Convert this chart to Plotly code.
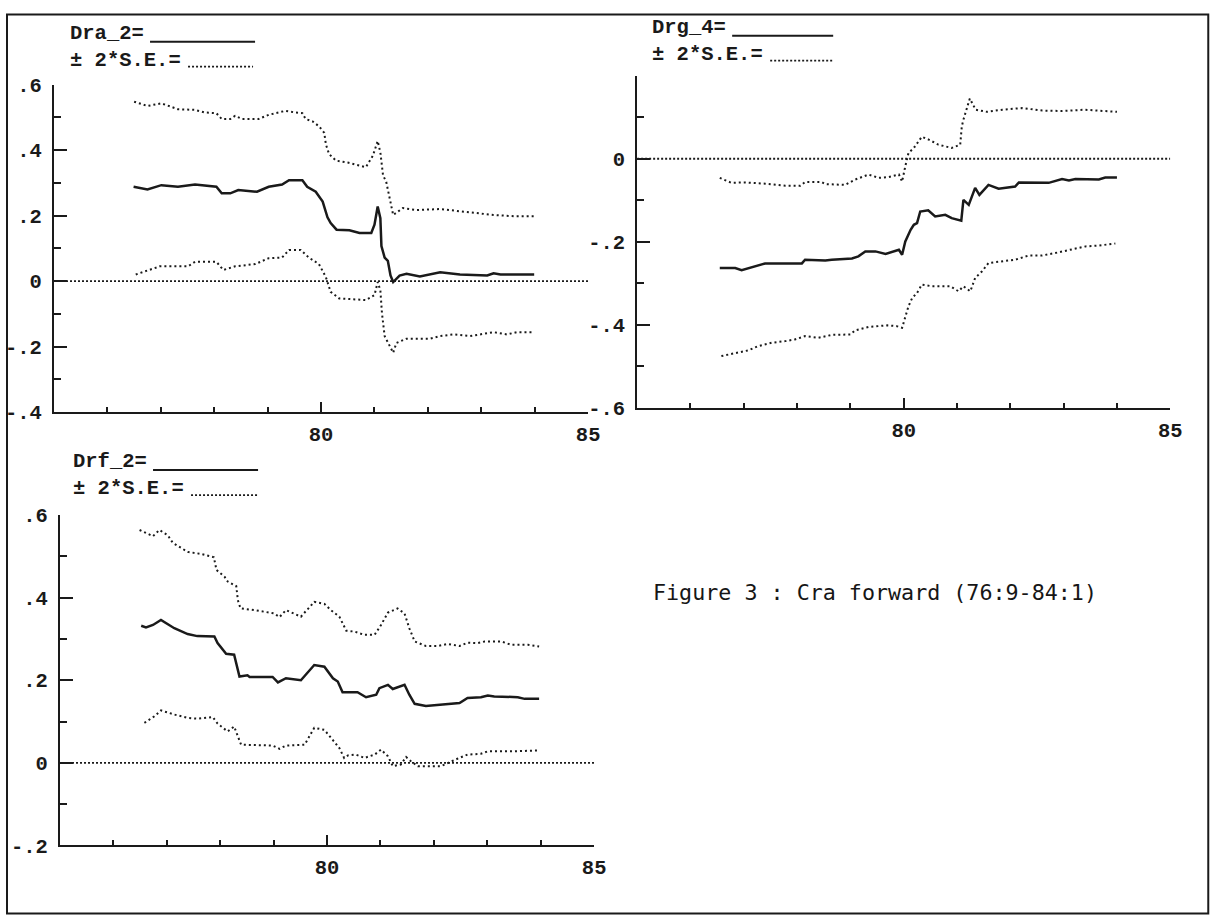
import plotly.graph_objects as go

# ---------------- data (year, value) ----------------
ZERO_X = [75, 85]
ZERO_Y = [0, 0]

P1_UPPER = [(76.50, 0.548), (76.75, 0.535), (77.01, 0.543), (77.32, 0.525), (77.64, 0.523),
            (77.82, 0.515), (78.04, 0.513), (78.14, 0.495), (78.30, 0.495), (78.39, 0.505),
            (78.52, 0.495), (78.83, 0.495), (79.02, 0.508), (79.33, 0.520), (79.52, 0.515),
            (79.65, 0.513), (79.71, 0.495), (79.84, 0.488), (79.96, 0.473), (80.06, 0.453),
            (80.09, 0.418), (80.15, 0.388), (80.28, 0.368), (80.50, 0.362), (80.72, 0.353),
            (80.84, 0.348), (80.97, 0.383), (81.06, 0.428), (81.11, 0.393), (81.16, 0.323),
            (81.22, 0.303), (81.28, 0.253), (81.35, 0.202), (81.53, 0.223), (81.79, 0.217),
            (82.23, 0.220), (82.60, 0.213), (82.92, 0.208), (83.23, 0.202), (83.61, 0.198),
            (83.99, 0.198)]
P1_CENTER = [(76.49, 0.288), (76.75, 0.280), (77.01, 0.293), (77.32, 0.288), (77.64, 0.295),
             (78.04, 0.288), (78.14, 0.268), (78.30, 0.268), (78.45, 0.278), (78.80, 0.273),
             (79.02, 0.288), (79.27, 0.295), (79.40, 0.308), (79.65, 0.308), (79.74, 0.288),
             (79.90, 0.273), (80.03, 0.243), (80.12, 0.195), (80.18, 0.177), (80.29, 0.157),
             (80.53, 0.155), (80.72, 0.147), (80.94, 0.147), (81.00, 0.172), (81.06, 0.228),
             (81.11, 0.192), (81.13, 0.107), (81.19, 0.072), (81.25, 0.062), (81.30, 0.017),
             (81.35, -0.003), (81.47, 0.017), (81.60, 0.022), (81.85, 0.014), (82.23, 0.027),
             (82.60, 0.020), (83.11, 0.017), (83.23, 0.024), (83.36, 0.020), (83.99, 0.020)]
P1_LOWER = [(76.53, 0.020), (76.75, 0.032), (76.98, 0.045), (77.51, 0.045), (77.64, 0.059),
            (78.04, 0.059), (78.17, 0.034), (78.39, 0.045), (78.77, 0.052), (79.02, 0.070),
            (79.27, 0.072), (79.40, 0.095), (79.62, 0.095), (79.77, 0.072), (79.96, 0.052),
            (80.09, 0.012), (80.18, -0.033), (80.34, -0.053), (80.72, -0.058), (80.84, -0.058),
            (81.00, -0.043), (81.06, -0.003), (81.11, -0.028), (81.14, -0.098), (81.19, -0.168),
            (81.28, -0.198), (81.35, -0.219), (81.41, -0.189), (81.60, -0.176), (82.04, -0.176),
            (82.23, -0.168), (82.48, -0.163), (82.79, -0.168), (83.23, -0.156), (83.48, -0.163),
            (83.67, -0.156), (83.99, -0.156)]

P2_UPPER = [(76.55, -0.046), (76.77, -0.058), (77.02, -0.057), (77.40, -0.060), (77.78, -0.065),
            (78.06, -0.065), (78.15, -0.056), (78.46, -0.056), (78.53, -0.061), (78.90, -0.063),
            (79.09, -0.050), (79.34, -0.038), (79.53, -0.046), (79.72, -0.044), (79.91, -0.038),
            (79.97, -0.055), (80.03, -0.018), (80.09, 0.014), (80.19, 0.026), (80.34, 0.053),
            (80.47, 0.046), (80.65, 0.034), (80.90, 0.026), (81.06, 0.034), (81.09, 0.078),
            (81.12, 0.094), (81.24, 0.145), (81.35, 0.118), (81.56, 0.113), (81.85, 0.118),
            (82.22, 0.122), (82.60, 0.116), (82.97, 0.115), (83.40, 0.118), (83.75, 0.115),
            (84.00, 0.113)]
P2_CENTER = [(76.55, -0.263), (76.84, -0.263), (76.96, -0.268), (77.21, -0.259), (77.40, -0.252),
             (78.09, -0.252), (78.15, -0.243), (78.53, -0.245), (78.65, -0.243), (79.03, -0.240),
             (79.15, -0.235), (79.28, -0.223), (79.47, -0.223), (79.66, -0.229), (79.91, -0.219),
             (79.97, -0.231), (80.03, -0.199), (80.13, -0.171), (80.19, -0.159), (80.25, -0.155),
             (80.31, -0.127), (80.46, -0.124), (80.59, -0.139), (80.78, -0.135), (80.90, -0.143),
             (81.08, -0.149), (81.12, -0.099), (81.22, -0.111), (81.34, -0.070), (81.42, -0.087),
             (81.59, -0.063), (81.78, -0.072), (82.09, -0.067), (82.16, -0.057), (82.72, -0.058),
             (82.97, -0.049), (83.10, -0.052), (83.22, -0.049), (83.66, -0.050), (83.78, -0.045),
             (84.00, -0.045)]
P2_LOWER = [(76.58, -0.475), (76.90, -0.467), (77.09, -0.461), (77.27, -0.451), (77.52, -0.443),
            (77.78, -0.439), (77.96, -0.435), (78.15, -0.427), (78.40, -0.431), (78.65, -0.424),
            (79.00, -0.423), (79.09, -0.413), (79.34, -0.405), (79.69, -0.401), (79.87, -0.403),
            (79.97, -0.407), (80.03, -0.379), (80.09, -0.355), (80.16, -0.335), (80.25, -0.323),
            (80.34, -0.303), (80.53, -0.307), (80.87, -0.307), (81.03, -0.319), (81.12, -0.307),
            (81.25, -0.319), (81.34, -0.287), (81.47, -0.271), (81.59, -0.251), (81.84, -0.247),
            (82.09, -0.243), (82.34, -0.233), (82.59, -0.233), (82.84, -0.227), (83.10, -0.219),
            (83.41, -0.211), (83.66, -0.209), (83.97, -0.204)]

P3_UPPER = [(76.49, 0.564), (76.74, 0.549), (76.86, 0.564), (77.02, 0.551), (77.11, 0.533),
            (77.39, 0.511), (77.64, 0.506), (77.88, 0.498), (77.93, 0.467), (78.08, 0.451),
            (78.14, 0.439), (78.30, 0.428), (78.33, 0.394), (78.38, 0.374), (78.64, 0.370),
            (78.83, 0.365), (79.01, 0.362), (79.11, 0.353), (79.23, 0.370), (79.51, 0.354),
            (79.76, 0.390), (79.95, 0.385), (80.07, 0.370), (80.23, 0.354), (80.36, 0.320),
            (80.51, 0.318), (80.70, 0.310), (80.89, 0.310), (81.01, 0.334), (81.14, 0.364),
            (81.32, 0.374), (81.45, 0.362), (81.54, 0.326), (81.64, 0.294), (81.85, 0.283),
            (82.07, 0.283), (82.26, 0.288), (82.48, 0.283), (82.63, 0.291), (82.82, 0.290),
            (82.95, 0.294), (83.26, 0.294), (83.45, 0.286), (83.76, 0.286), (83.97, 0.282)]
P3_CENTER = [(76.52, 0.332), (76.61, 0.328), (76.74, 0.334), (76.89, 0.346), (77.14, 0.326),
             (77.39, 0.312), (77.57, 0.307), (77.89, 0.306), (77.95, 0.290), (78.11, 0.264),
             (78.26, 0.262), (78.36, 0.209), (78.51, 0.212), (78.55, 0.208), (78.98, 0.208),
             (79.08, 0.195), (79.23, 0.205), (79.51, 0.200), (79.76, 0.237), (79.95, 0.233),
             (80.11, 0.205), (80.20, 0.197), (80.29, 0.171), (80.57, 0.171), (80.73, 0.159),
             (80.92, 0.165), (80.98, 0.181), (81.14, 0.189), (81.23, 0.179), (81.45, 0.189),
             (81.54, 0.165), (81.64, 0.143), (81.85, 0.138), (82.16, 0.141), (82.48, 0.145),
             (82.63, 0.157), (82.88, 0.159), (83.01, 0.163), (83.13, 0.161), (83.57, 0.159),
             (83.70, 0.155), (83.97, 0.155)]
P3_LOWER = [(76.58, 0.097), (76.77, 0.113), (76.89, 0.127), (77.14, 0.117), (77.39, 0.109),
            (77.57, 0.107), (77.86, 0.111), (77.95, 0.095), (78.14, 0.076), (78.26, 0.088),
            (78.39, 0.044), (78.76, 0.042), (78.98, 0.042), (79.11, 0.034), (79.23, 0.042),
            (79.58, 0.044), (79.76, 0.085), (79.95, 0.080), (80.11, 0.056), (80.23, 0.036),
            (80.32, 0.012), (80.39, 0.018), (80.54, 0.020), (80.70, 0.012), (80.89, 0.020),
            (81.01, 0.032), (81.14, 0.016), (81.23, -0.008), (81.38, -0.004), (81.48, 0.014),
            (81.57, 0.004), (81.70, -0.008), (82.13, -0.008), (82.26, 0.000), (82.44, 0.010),
            (82.63, 0.020), (82.88, 0.022), (83.01, 0.028), (83.45, 0.028), (83.97, 0.030)]

X_TICKS = [80, 85]
X_TICK_TEXT = ["80", "85"]
X_MINOR = [76, 77, 78, 79, 81, 82, 83, 84]

Y1_TICKS = [-0.4, -0.2, 0, 0.2, 0.4, 0.6]
Y1_TEXT = ["-.4", "-.2", "0", ".2", ".4", ".6"]
Y1_MINOR = [-0.3, -0.1, 0.1, 0.3, 0.5]
Y2_TICKS = [-0.6, -0.4, -0.2, 0, 0.2]
Y2_TEXT = ["-.6", "-.4", "-.2", "0", ""]
Y2_MINOR = [-0.5, -0.3, -0.1, 0.1]
Y3_TICKS = [-0.2, 0, 0.2, 0.4, 0.6]
Y3_TEXT = ["-.2", "0", ".2", ".4", ".6"]
Y3_MINOR = [-0.1, 0.1, 0.3, 0.5]

LEGEND_NAMES = ["Dra_2=", "Drg_4=", "Drf_2="]
BAND_NAME = "± 2*S.E.="
CAPTION = "Figure 3 : Cra forward (76:9-84:1)"

# ---------------- figure ----------------
W, H = 1227, 935
SX, SY, OY = 0.990, 0.9744, 10.4   # measured page -> picture mapping
INK = "#1a1a1a"
MONO = "Liberation Mono"


def px(X):
    """picture x (pixels) -> paper fraction"""
    return (X / SX) / W


def py(Y):
    """picture y (pixels from top) -> paper fraction"""
    return 1 - ((Y - OY) / SY) / H


fig = go.Figure()


def ax_names(n):
    return ("x", "y") if n == 1 else (f"x{n}", f"y{n}")


def add_series(pts, n, dotted):
    xa, ya = ax_names(n)
    fig.add_trace(go.Scatter(
        x=[p[0] for p in pts], y=[p[1] for p in pts], mode="lines", xaxis=xa, yaxis=ya,
        line=dict(color=INK, width=2.0 if dotted else 2.5,
                  dash="2px,3px" if dotted else "solid"),
        showlegend=False, hoverinfo="skip"))


for n, (up, ce, lo) in enumerate([(P1_UPPER, P1_CENTER, P1_LOWER),
                                  (P2_UPPER, P2_CENTER, P2_LOWER),
                                  (P3_UPPER, P3_CENTER, P3_LOWER)], start=1):
    xa, ya = ax_names(n)
    fig.add_trace(go.Scatter(
        x=ZERO_X, y=ZERO_Y, mode="lines", xaxis=xa, yaxis=ya,
        line=dict(color=INK, width=1.8, dash="2px,2px"),
        showlegend=False, hoverinfo="skip"))
    add_series(up, n, True)
    add_series(lo, n, True)
    add_series(ce, n, False)

tick_font = dict(family=MONO, size=20.5, color=INK, weight="bold")


def xaxis(domain, anchor):
    return dict(domain=domain, anchor=anchor, range=[75, 85], showline=True, linewidth=2,
                linecolor=INK, showgrid=False, zeroline=False, ticks="inside", ticklen=10,
                tickwidth=2, tickcolor=INK, tickmode="array", tickvals=X_TICKS,
                ticktext=X_TICK_TEXT, tickfont=tick_font, ticklabelstandoff=2,
                minor=dict(tickmode="array", tickvals=X_MINOR, ticks="inside", ticklen=5,
                           tickwidth=2, tickcolor=INK, showgrid=False),
                fixedrange=True)


def yaxis(domain, anchor, rng, tv, tt, mv):
    return dict(domain=domain, anchor=anchor, range=rng, showline=True, linewidth=2,
                linecolor=INK, showgrid=False, zeroline=False, ticks="inside", ticklen=13,
                tickwidth=2, tickcolor=INK, tickmode="array", tickvals=tv, ticktext=tt,
                tickfont=tick_font, ticklabelstandoff=6,
                minor=dict(tickmode="array", tickvals=mv, ticks="inside", ticklen=7,
                           tickwidth=2, tickcolor=INK, showgrid=False),
                fixedrange=True)


fig.update_layout(
    width=W, height=H, margin=dict(l=0, r=0, t=0, b=0),
    paper_bgcolor="white", plot_bgcolor="white", showlegend=False,
    xaxis=xaxis([px(54), px(588)], "y"),
    yaxis=yaxis([py(412), py(85)], "x", [-0.4, 0.6], Y1_TICKS, Y1_TEXT, Y1_MINOR),
    xaxis2=xaxis([px(637), px(1170)], "y2"),
    yaxis2=yaxis([py(408), py(76)], "x2", [-0.6, 0.2], Y2_TICKS, Y2_TEXT, Y2_MINOR),
    xaxis3=xaxis([px(60), px(594)], "y3"),
    yaxis3=yaxis([py(845), py(515)], "x3", [-0.2, 0.6], Y3_TICKS, Y3_TEXT, Y3_MINOR),
)

shapes = [dict(type="rect", xref="paper", yref="paper", x0=px(7), x1=px(1208),
               y0=py(913), y1=py(15), line=dict(color=INK, width=2))]
annotations = []
# text left, block centre y, solid sample (x0, x1, y), dotted sample (x0, x1, y)
legend_pos = [
    (68, 47, (150, 255, 42), (188, 253, 67)),
    (650, 41, (732, 833, 36), (770, 832, 61)),
    (71, 475, (153, 258, 470), (191, 257, 495)),
]
for name, (lx, cy, sl, dl) in zip(LEGEND_NAMES, legend_pos):
    annotations.append(dict(text=name + "<br>" + BAND_NAME, x=px(lx), y=py(cy),
                            xref="paper", yref="paper", xanchor="left", yanchor="middle",
                            align="left", showarrow=False,
                            font=dict(family=MONO, size=20.5, color=INK, weight="bold")))
    shapes.append(dict(type="line", xref="paper", yref="paper", x0=px(sl[0]), x1=px(sl[1]),
                       y0=py(sl[2]), y1=py(sl[2]), line=dict(color=INK, width=2)))
    shapes.append(dict(type="line", xref="paper", yref="paper", x0=px(dl[0]), x1=px(dl[1]),
                       y0=py(dl[2]), y1=py(dl[2]),
                       line=dict(color=INK, width=1.8, dash="2px,2px")))

annotations.append(dict(text=CAPTION, x=px(875), y=py(592), xref="paper", yref="paper",
                        xanchor="center", yanchor="middle", showarrow=False,
                        font=dict(family="DejaVu Sans Mono", size=21.7, color="#161616")))

fig.update_layout(shapes=shapes, annotations=annotations)

PIN_TO_CORNER = (
    "document.documentElement.style.margin='0';"
    "document.body.style.margin='0';"
    "document.body.style.overflow='hidden';"
    "var gd=document.getElementById('{plot_id}');"
    "gd.style.position='absolute';gd.style.left='0px';gd.style.top='0px';"
)
fig.write_html("out.html", post_script=PIN_TO_CORNER,
               config={"displayModeBar": False, "staticPlot": True})
